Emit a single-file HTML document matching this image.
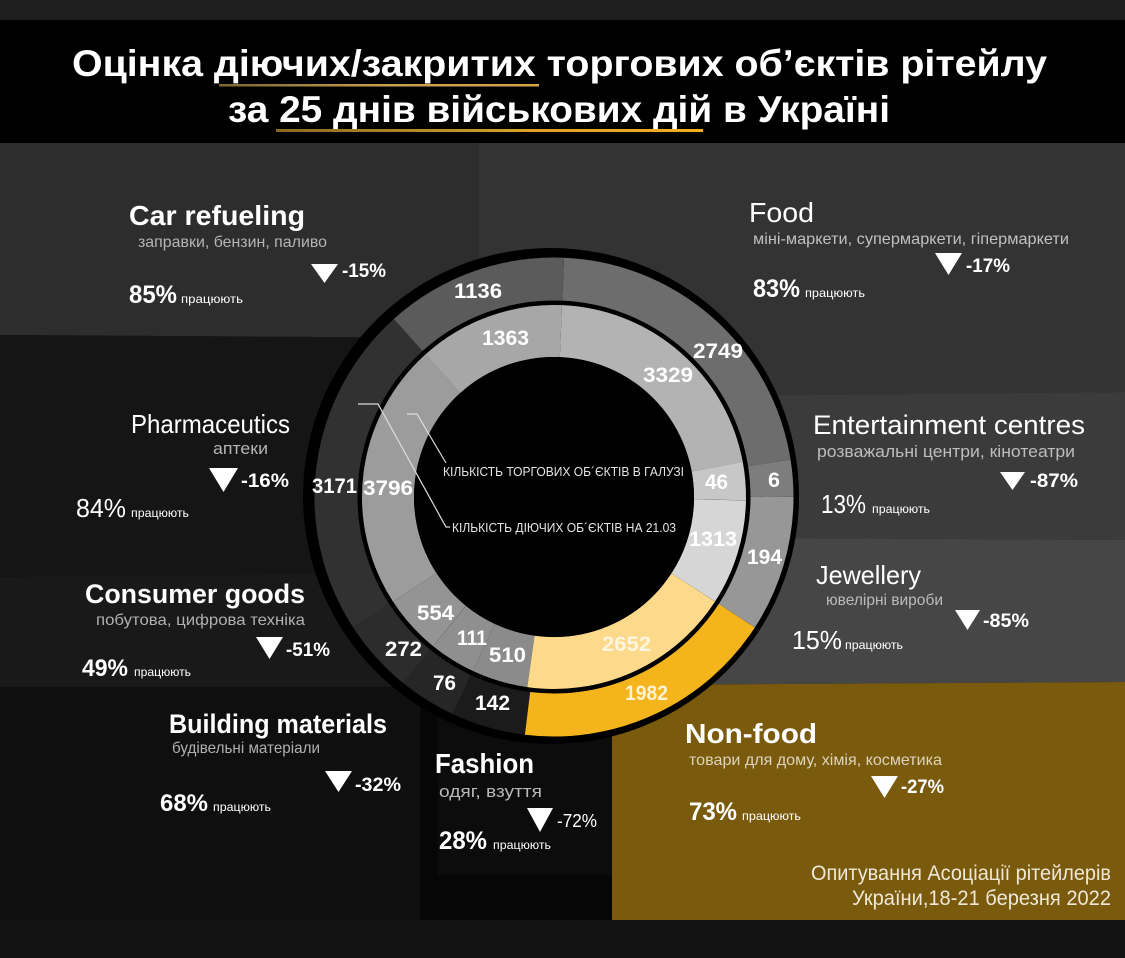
<!DOCTYPE html>
<html><head><meta charset="utf-8"><style>
html,body{margin:0;padding:0;background:#121212;}
svg{display:block;}
</style></head><body>
<svg width="1125" height="958" viewBox="0 0 1125 958" xmlns="http://www.w3.org/2000/svg" font-family="'Liberation Sans','DejaVu Sans',sans-serif">
<defs>
<linearGradient id="u1" x1="0" x2="1" y1="0" y2="0"><stop offset="0" stop-color="#7a6535"/><stop offset="0.5" stop-color="#c9a04a"/><stop offset="1" stop-color="#d4a445"/></linearGradient>
<linearGradient id="u2" x1="0" x2="1" y1="0" y2="0"><stop offset="0" stop-color="#8a6a25"/><stop offset="0.6" stop-color="#d9a22a"/><stop offset="1" stop-color="#f0b020"/></linearGradient>
</defs>
<!-- background regions -->
<rect x="0" y="0" width="1125" height="958" fill="#121212"/>
<rect x="0" y="0" width="1125" height="20" fill="#1e1e1e"/>
<rect x="0" y="20" width="1125" height="123" fill="#000"/>
<polygon points="0,143 479,143 479,338 0,335" fill="#2d2d2d"/>
<polygon points="479,143 1125,143 1125,392 790,397 479,397" fill="#333333"/>
<polygon points="0,335 479,338 479,575 0,577" fill="#151515"/>
<polygon points="0,577 479,573 479,687 0,687" fill="#191919"/>
<rect x="0" y="687" width="420" height="233" fill="#0f0f0f"/>
<rect x="420" y="687" width="192" height="233" fill="#060606"/>
<rect x="438" y="690" width="174" height="185" fill="#0c0c0c"/>
<polygon points="620,397 1125,392 1125,540 620,537" fill="#3b3b3b"/>
<polygon points="620,537 1125,540 1125,682 620,685" fill="#464646"/>
<polygon points="612,685 1125,682 1125,920 612,920" fill="#7a5a0c"/>

<!-- title -->
<text x="72" y="76" font-size="37" font-weight="bold" fill="#fff" textLength="975" lengthAdjust="spacingAndGlyphs">Оцінка діючих/закритих торгових об’єктів рітейлу</text>
<rect x="219" y="84" width="320" height="2.5" fill="url(#u1)"/>
<text x="228" y="122" font-size="37" font-weight="bold" fill="#fff" textLength="662" lengthAdjust="spacingAndGlyphs">за 25 днів військових дій в Україні</text>
<rect x="276" y="129" width="427" height="3" fill="url(#u2)"/>

<!-- donut -->
<circle cx="551" cy="496" r="248" fill="#000"/>
<g fill="none" stroke-width="43">
<circle cx="554" cy="497" r="218" pathLength="360" stroke="#6d6d6d" stroke-dasharray="78.6 400" transform="rotate(-87.6 554 497)"/>
<circle cx="554" cy="497" r="218" pathLength="360" stroke="#7d7d7d" stroke-dasharray="9 400" transform="rotate(-9 554 497)"/>
<circle cx="554" cy="497" r="218" pathLength="360" stroke="#979797" stroke-dasharray="33 400" transform="rotate(0 554 497)"/>
<circle cx="554" cy="497" r="218" pathLength="360" stroke="#f4b41b" stroke-dasharray="64 400" transform="rotate(33 554 497)"/>
<circle cx="554" cy="497" r="218" pathLength="360" stroke="#1b1b1b" stroke-dasharray="18 400" transform="rotate(97 554 497)"/>
<circle cx="554" cy="497" r="218" pathLength="360" stroke="#262626" stroke-dasharray="14 400" transform="rotate(115 554 497)"/>
<circle cx="554" cy="497" r="218" pathLength="360" stroke="#2c2c2c" stroke-dasharray="18 400" transform="rotate(129 554 497)"/>
<circle cx="554" cy="497" r="218" pathLength="360" stroke="#313131" stroke-dasharray="81 400" transform="rotate(147 554 497)"/>
<circle cx="554" cy="497" r="218" pathLength="360" stroke="#5b5b5b" stroke-dasharray="44.4 400" transform="rotate(228 554 497)"/>
</g>
<circle cx="554" cy="497" r="194" fill="none" stroke="#000" stroke-width="3.5"/>
<g fill="none" stroke-width="52">
<circle cx="554" cy="497" r="166" pathLength="360" stroke="#b3b3b3" stroke-dasharray="77.1 400" transform="rotate(-87.6 554 497)"/>
<circle cx="554" cy="497" r="166" pathLength="360" stroke="#c7c7c7" stroke-dasharray="11.5 400" transform="rotate(-10.5 554 497)"/>
<circle cx="554" cy="497" r="166" pathLength="360" stroke="#d6d6d6" stroke-dasharray="32 400" transform="rotate(1 554 497)"/>
<circle cx="554" cy="497" r="166" pathLength="360" stroke="#fcd98b" stroke-dasharray="65 400" transform="rotate(33 554 497)"/>
<circle cx="554" cy="497" r="166" pathLength="360" stroke="#8b8b8b" stroke-dasharray="17 400" transform="rotate(98 554 497)"/>
<circle cx="554" cy="497" r="166" pathLength="360" stroke="#8f8f8f" stroke-dasharray="14 400" transform="rotate(115 554 497)"/>
<circle cx="554" cy="497" r="166" pathLength="360" stroke="#949494" stroke-dasharray="18 400" transform="rotate(129 554 497)"/>
<circle cx="554" cy="497" r="166" pathLength="360" stroke="#9c9c9c" stroke-dasharray="81 400" transform="rotate(147 554 497)"/>
<circle cx="554" cy="497" r="166" pathLength="360" stroke="#a7a7a7" stroke-dasharray="44.4 400" transform="rotate(228 554 497)"/>
</g>
<circle cx="554" cy="497" r="140" fill="#000"/>

<!-- leader lines & center text -->
<polyline points="358,404 378,404 446,527 450,527" fill="none" stroke="#dddddd" stroke-width="1.2"/>
<polyline points="407,414 417,414 446,463" fill="none" stroke="#dddddd" stroke-width="1.2"/>
<text x="443" y="476" font-size="12.5" fill="#e4e4e4" textLength="241" lengthAdjust="spacingAndGlyphs">КІЛЬКІСТЬ ТОРГОВИХ ОБ´ЄКТІВ В ГАЛУЗІ</text>
<text x="452" y="532" font-size="12.5" fill="#e4e4e4" textLength="224" lengthAdjust="spacingAndGlyphs">КІЛЬКІСТЬ ДІЮЧИХ ОБ´ЄКТІВ НА 21.03</text>

<!-- ring numbers -->
<g font-size="21" font-weight="bold" fill="#fff">
<text x="454" y="298" textLength="48" lengthAdjust="spacingAndGlyphs">1136</text>
<text x="482" y="345" textLength="47" lengthAdjust="spacingAndGlyphs">1363</text>
<text x="693" y="358" textLength="50" lengthAdjust="spacingAndGlyphs">2749</text>
<text x="643" y="382" textLength="50" lengthAdjust="spacingAndGlyphs">3329</text>
<text x="705" y="489" textLength="23" lengthAdjust="spacingAndGlyphs">46</text>
<text x="768" y="487" textLength="12" lengthAdjust="spacingAndGlyphs">6</text>
<text x="689" y="546" textLength="48" lengthAdjust="spacingAndGlyphs">1313</text>
<text x="747" y="564" textLength="35" lengthAdjust="spacingAndGlyphs">194</text>
<text x="602" y="651" textLength="49" lengthAdjust="spacingAndGlyphs" fill="#fff6e0">2652</text>
<text x="625" y="700" textLength="43" lengthAdjust="spacingAndGlyphs" fill="#fff2d0">1982</text>
<text x="475" y="710" textLength="35" lengthAdjust="spacingAndGlyphs">142</text>
<text x="433" y="690" textLength="23" lengthAdjust="spacingAndGlyphs">76</text>
<text x="489" y="662" textLength="37" lengthAdjust="spacingAndGlyphs">510</text>
<text x="457" y="645" textLength="30" lengthAdjust="spacingAndGlyphs">111</text>
<text x="385" y="656" textLength="37" lengthAdjust="spacingAndGlyphs">272</text>
<text x="417" y="620" textLength="37" lengthAdjust="spacingAndGlyphs">554</text>
<text x="312" y="493" textLength="45" lengthAdjust="spacingAndGlyphs">3171</text>
<text x="363" y="495" textLength="50" lengthAdjust="spacingAndGlyphs">3796</text>
</g>

<!-- triangles -->
<g fill="#fff">
<polygon points="311,264 338,264 324.5,283"/>
<polygon points="935,253 962,253 948.5,275"/>
<polygon points="209,468 238,468 223.5,492"/>
<polygon points="1000,472 1025,472 1012.5,490"/>
<polygon points="256,637 283,637 269.5,659"/>
<polygon points="955,610 980,610 967.5,630"/>
<polygon points="325,771 352,771 338.5,792"/>
<polygon points="527,808 553,808 540,832"/>
<polygon points="871,776 898,776 884.5,798"/>
</g>

<!-- Car refueling -->
<text x="129" y="225" font-size="28" font-weight="bold" fill="#fff" textLength="176" lengthAdjust="spacingAndGlyphs">Car refueling</text>
<text x="138" y="247" font-size="16" fill="#b4b4b4" textLength="189" lengthAdjust="spacingAndGlyphs">заправки, бензин, паливо</text>
<text x="342" y="277" font-size="19" font-weight="bold" fill="#fff" textLength="44" lengthAdjust="spacingAndGlyphs">-15%</text>
<text x="129" y="303" font-size="25" font-weight="bold" fill="#fff" textLength="48" lengthAdjust="spacingAndGlyphs">85%</text>
<text x="181" y="303" font-size="12" fill="#fff" textLength="62" lengthAdjust="spacingAndGlyphs">працюють</text>

<!-- Food -->
<text x="749" y="222" font-size="28" fill="#fff" textLength="65" lengthAdjust="spacingAndGlyphs">Food</text>
<text x="753" y="244" font-size="16" fill="#c0c0c0" textLength="316" lengthAdjust="spacingAndGlyphs">міні-маркети, супермаркети, гіпермаркети</text>
<text x="966" y="272" font-size="19" font-weight="bold" fill="#fff" textLength="44" lengthAdjust="spacingAndGlyphs">-17%</text>
<text x="753" y="297" font-size="25" font-weight="bold" fill="#fff" textLength="47" lengthAdjust="spacingAndGlyphs">83%</text>
<text x="805" y="297" font-size="12" fill="#fff" textLength="60" lengthAdjust="spacingAndGlyphs">працюють</text>

<!-- Pharmaceutics -->
<text x="131" y="433" font-size="26" fill="#fff" textLength="159" lengthAdjust="spacingAndGlyphs">Pharmaceutics</text>
<text x="213" y="454" font-size="17" fill="#b4b4b4" textLength="55" lengthAdjust="spacingAndGlyphs">аптеки</text>
<text x="241" y="487" font-size="19" font-weight="bold" fill="#fff" textLength="48" lengthAdjust="spacingAndGlyphs">-16%</text>
<text x="76" y="517" font-size="26" fill="#fff" textLength="50" lengthAdjust="spacingAndGlyphs">84%</text>
<text x="131" y="517" font-size="12" fill="#fff" textLength="58" lengthAdjust="spacingAndGlyphs">працюють</text>

<!-- Entertainment -->
<text x="813" y="434" font-size="27" fill="#fff" textLength="272" lengthAdjust="spacingAndGlyphs">Entertainment centres</text>
<text x="817" y="457" font-size="17" fill="#bdbdbd" textLength="258" lengthAdjust="spacingAndGlyphs">розважальні центри, кінотеатри</text>
<text x="1030" y="487" font-size="19" font-weight="bold" fill="#fff" textLength="48" lengthAdjust="spacingAndGlyphs">-87%</text>
<text x="821" y="513" font-size="26" fill="#fff" textLength="45" lengthAdjust="spacingAndGlyphs">13%</text>
<text x="872" y="513" font-size="12" fill="#fff" textLength="58" lengthAdjust="spacingAndGlyphs">працюють</text>

<!-- Consumer goods -->
<text x="85" y="603" font-size="27" font-weight="bold" fill="#fff" textLength="220" lengthAdjust="spacingAndGlyphs">Consumer goods</text>
<text x="96" y="625" font-size="16" fill="#b0b0b0" textLength="209" lengthAdjust="spacingAndGlyphs">побутова, цифрова техніка</text>
<text x="286" y="656" font-size="19" font-weight="bold" fill="#fff" textLength="44" lengthAdjust="spacingAndGlyphs">-51%</text>
<text x="82" y="676" font-size="24" font-weight="bold" fill="#fff" textLength="46" lengthAdjust="spacingAndGlyphs">49%</text>
<text x="134" y="676" font-size="12" fill="#fff" textLength="57" lengthAdjust="spacingAndGlyphs">працюють</text>

<!-- Jewellery -->
<text x="816" y="584" font-size="26" fill="#fff" textLength="105" lengthAdjust="spacingAndGlyphs">Jewellery</text>
<text x="826" y="605" font-size="16" fill="#bbbbbb" textLength="117" lengthAdjust="spacingAndGlyphs">ювелірні вироби</text>
<text x="983" y="627" font-size="19" font-weight="bold" fill="#fff" textLength="46" lengthAdjust="spacingAndGlyphs">-85%</text>
<text x="792" y="649" font-size="26" fill="#fff" textLength="50" lengthAdjust="spacingAndGlyphs">15%</text>
<text x="845" y="649" font-size="12" fill="#fff" textLength="58" lengthAdjust="spacingAndGlyphs">працюють</text>

<!-- Building materials -->
<text x="169" y="733" font-size="27" font-weight="bold" fill="#fff" textLength="218" lengthAdjust="spacingAndGlyphs">Building materials</text>
<text x="172" y="753" font-size="16" fill="#b0b0b0" textLength="148" lengthAdjust="spacingAndGlyphs">будівельні матеріали</text>
<text x="355" y="791" font-size="19" font-weight="bold" fill="#fff" textLength="46" lengthAdjust="spacingAndGlyphs">-32%</text>
<text x="160" y="811" font-size="24" font-weight="bold" fill="#fff" textLength="48" lengthAdjust="spacingAndGlyphs">68%</text>
<text x="213" y="811" font-size="12" fill="#fff" textLength="58" lengthAdjust="spacingAndGlyphs">працюють</text>

<!-- Fashion -->
<text x="435" y="773" font-size="28" font-weight="bold" fill="#fff" textLength="99" lengthAdjust="spacingAndGlyphs">Fashion</text>
<text x="439" y="797" font-size="17" fill="#b8b8b8" textLength="103" lengthAdjust="spacingAndGlyphs">одяг, взуття</text>
<text x="557" y="827" font-size="18" fill="#fff" textLength="40" lengthAdjust="spacingAndGlyphs">-72%</text>
<text x="439" y="849" font-size="25" font-weight="bold" fill="#fff" textLength="48" lengthAdjust="spacingAndGlyphs">28%</text>
<text x="493" y="849" font-size="12" fill="#fff" textLength="58" lengthAdjust="spacingAndGlyphs">працюють</text>

<!-- Non-food -->
<text x="685" y="743" font-size="28" font-weight="bold" fill="#fff" textLength="132" lengthAdjust="spacingAndGlyphs">Non-food</text>
<text x="689" y="765" font-size="16" fill="#ddd4bc" textLength="253" lengthAdjust="spacingAndGlyphs">товари для дому, хімія, косметика</text>
<text x="901" y="793" font-size="19" font-weight="bold" fill="#fff" textLength="43" lengthAdjust="spacingAndGlyphs">-27%</text>
<text x="689" y="820" font-size="25" font-weight="bold" fill="#fff" textLength="48" lengthAdjust="spacingAndGlyphs">73%</text>
<text x="742" y="820" font-size="12" fill="#fff" textLength="59" lengthAdjust="spacingAndGlyphs">працюють</text>

<!-- footer -->
<text x="811" y="880" font-size="21" fill="#eee8d8" textLength="300" lengthAdjust="spacingAndGlyphs">Опитування Асоціації рітейлерів</text>
<text x="852" y="905" font-size="21" fill="#eee8d8" textLength="259" lengthAdjust="spacingAndGlyphs">України,18-21 березня 2022</text>
</svg>
</body></html>
